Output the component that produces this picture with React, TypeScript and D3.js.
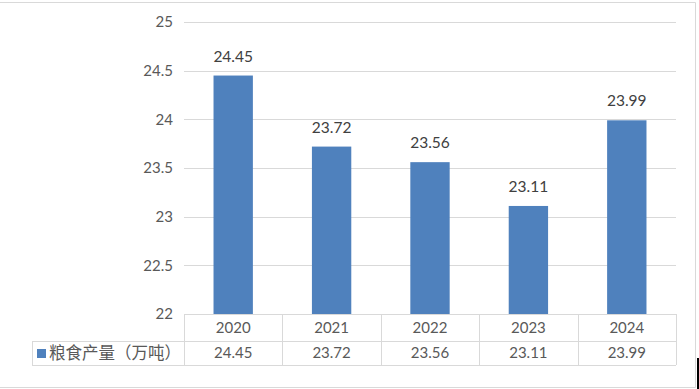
import React from 'react';
import * as d3 from 'd3';

const years = ['2020', '2021', '2022', '2023', '2024'];
const output = [24.45, 23.72, 23.56, 23.11, 23.99];
const seriesName = '粮食产量（万吨）';
const yTicks = [22, 22.5, 23, 23.5, 24, 24.5, 25];

const W = 699;
const H = 389;
const plot = { left: 184, right: 676, top: 22, bottom: 314 };
const rowH = [27, 24];
const legendLeft = 32;
const grid = '#d9d9d9';
const font = 'Lato, "Noto Sans CJK SC", sans-serif';

const App = () => {
  const x = d3.scaleBand<string>().domain(years).range([plot.left, plot.right]).paddingInner(0).paddingOuter(0);
  const y = d3.scaleLinear().domain([22, 25]).range([plot.bottom, plot.top]);
  const barW = x.bandwidth() * 0.4;
  const row1 = plot.bottom + rowH[0];
  const row2 = row1 + rowH[1];

  return (
    <div style={{ position: 'fixed', left: 0, top: 0, width: W, height: H, background: '#fff' }}>
      <svg width={W} height={H} style={{ display: 'block', fontFamily: font }}>
        {/* chart frame */}
        <line x1={0} x2={695.5} y1={2.5} y2={2.5} stroke={grid} />
        <line x1={695.5} x2={695.5} y1={2.5} y2={387.5} stroke={grid} />
        <line x1={0} x2={695.5} y1={387.5} y2={387.5} stroke={grid} />
        <rect x={697} y={358} width={2} height={31} fill="#000" />

        {/* gridlines and y labels */}
        {yTicks.map(t => (
          <g key={t}>
            {t > 22 && (
              <line x1={plot.left} x2={plot.right} y1={Math.round(y(t)) + 0.5} y2={Math.round(y(t)) + 0.5} stroke={grid} />
            )}
            <text x={173} y={y(t)} dy="0.35em" textAnchor="end" fontSize={15} fill="#595959">
              {t}
            </text>
          </g>
        ))}

        {/* bars */}
        {years.map((yr, i) => {
          const cx = (x(yr) as number) + x.bandwidth() / 2;
          return (
            <g key={yr}>
              <rect x={cx - barW / 2} y={y(output[i])} width={barW} height={plot.bottom - y(output[i])} fill="#4f81bd" />
              <text x={cx} y={y(output[i]) - 14} textAnchor="middle" fontSize={15.5} fill="#404040">
                {output[i].toFixed(2)}
              </text>
            </g>
          );
        })}

        {/* data table */}
        <line x1={plot.left} x2={plot.right} y1={plot.bottom + 0.5} y2={plot.bottom + 0.5} stroke={grid} />
        <line x1={legendLeft} x2={plot.right} y1={row1 + 0.5} y2={row1 + 0.5} stroke={grid} />
        <line x1={legendLeft} x2={plot.right} y1={row2 + 0.5} y2={row2 + 0.5} stroke={grid} />
        <line x1={legendLeft + 0.5} x2={legendLeft + 0.5} y1={row1} y2={row2} stroke={grid} />
        {years.concat(['end']).map((yr, i) => {
          const xx = Math.round(plot.left + i * x.bandwidth()) + 0.5;
          return <line key={yr} x1={xx} x2={xx} y1={plot.bottom} y2={row2} stroke={grid} />;
        })}
        {years.map((yr, i) => {
          const cx = (x(yr) as number) + x.bandwidth() / 2;
          return (
            <g key={yr} fontSize={15} fill="#595959" textAnchor="middle">
              <text x={cx} y={(plot.bottom + row1) / 2} dy="0.35em">{yr}</text>
              <text x={cx} y={(row1 + row2) / 2} dy="0.35em">{output[i].toFixed(2)}</text>
            </g>
          );
        })}

        {/* legend key */}
        <rect x={37} y={349} width={9} height={9} fill="#4f81bd" />
        <text x={49} y={(row1 + row2) / 2} dy="0.36em" fontSize={16.5} fill="#595959">
          {seriesName}
        </text>
      </svg>
    </div>
  );
};

export default App;
